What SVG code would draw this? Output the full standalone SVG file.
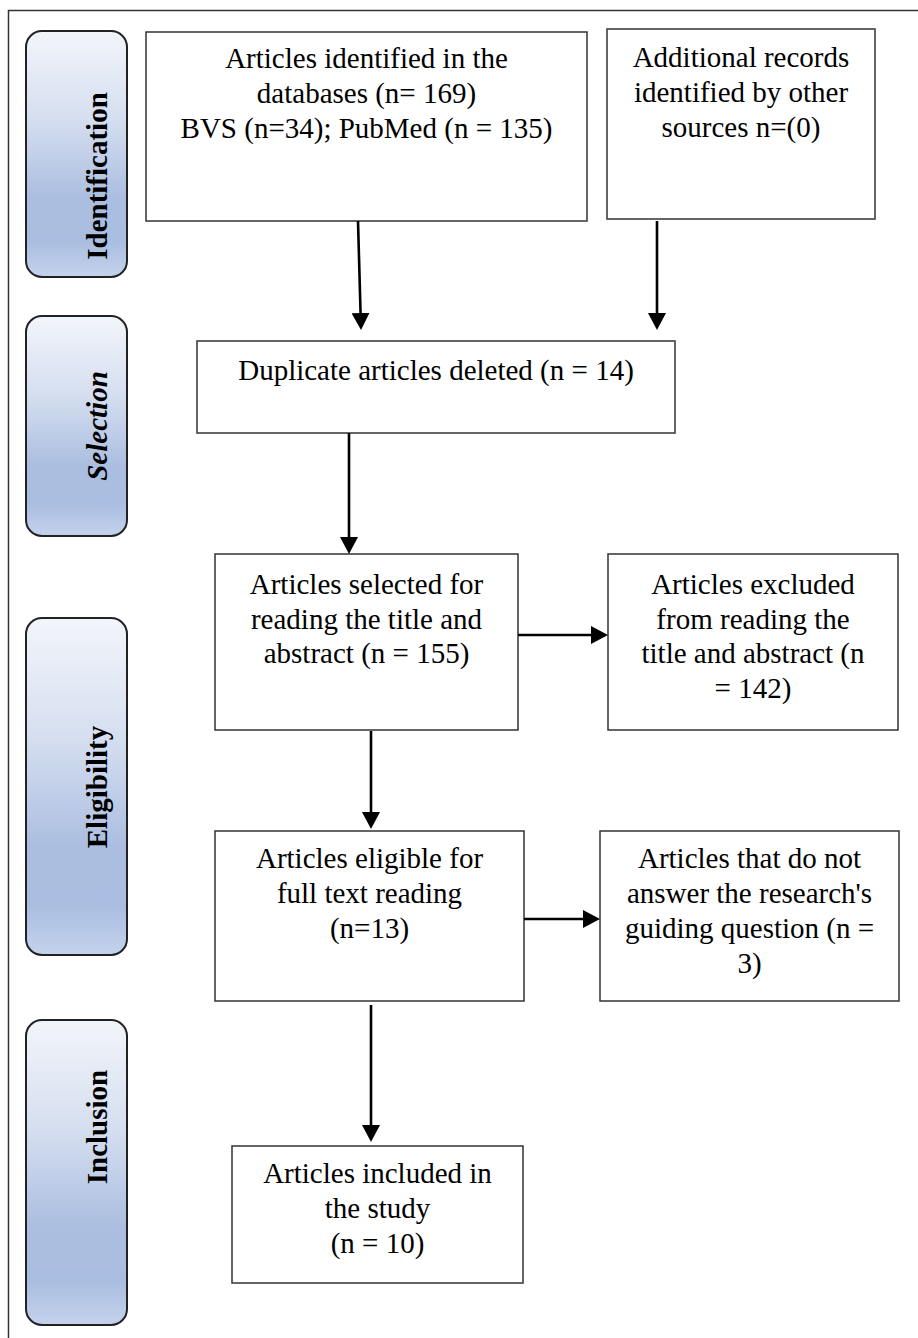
<svg xmlns="http://www.w3.org/2000/svg" width="918" height="1338" viewBox="0 0 918 1338">
<defs>
<linearGradient id="phase" x1="0" y1="0" x2="0" y2="1">
<stop offset="0" stop-color="#f2f5fa"/>
<stop offset="0.35" stop-color="#d6dff0"/>
<stop offset="0.68" stop-color="#abbee0"/>
<stop offset="0.85" stop-color="#a9bde0"/>
<stop offset="1" stop-color="#c4d2ec"/>
</linearGradient>
<marker id="ah" markerUnits="userSpaceOnUse" markerWidth="18" markerHeight="18" refX="5" refY="9" orient="auto" viewBox="0 0 18 18">
<path d="M0,0 L17,9 L0,18 z" fill="#000"/>
</marker>
<style>
.box{fill:#fff;stroke:#333;stroke-width:1.5}
.phase{fill:url(#phase);stroke:#222;stroke-width:2}
.t{font-family:"Liberation Serif","Times New Roman",serif;font-size:29px;fill:#000;text-anchor:middle}
.pt{font-family:"Liberation Serif","Times New Roman",serif;font-size:29px;font-weight:bold;fill:#000;text-anchor:middle}
.c{fill:none;stroke:#000;stroke-width:2.6}
</style>
</defs>
<rect width="918" height="1338" fill="#fff"/>
<path d="M8.5,1338 V10.5 H918" fill="none" stroke="#333" stroke-width="1.5"/>

<g id="phase-identification">
<rect class="phase" x="26" y="31" width="101" height="246" rx="16"/>
<text class="pt" transform="translate(107,176) rotate(-90)">Identification</text>
</g>
<g id="phase-selection">
<rect class="phase" x="26" y="316" width="101" height="220" rx="16"/>
<text class="pt" font-style="italic" transform="translate(107,426) rotate(-90)">Selection</text>
</g>
<g id="phase-eligibility">
<rect class="phase" x="26" y="618" width="101" height="337" rx="16"/>
<text class="pt" transform="translate(107,787) rotate(-90)">Eligibility</text>
</g>
<g id="phase-inclusion">
<rect class="phase" x="26" y="1020" width="101" height="305" rx="16"/>
<text class="pt" transform="translate(107,1127) rotate(-90)">Inclusion</text>
</g>

<g id="identified">
<rect class="box" x="146" y="32" width="441" height="189"/>
<text class="t" x="366.5" y="68">Articles identified in the</text>
<text class="t" x="366.5" y="103">databases (n= 169)</text>
<text class="t" x="366.5" y="138">BVS (n=34); PubMed (n = 135)</text>
</g>
<g id="additional">
<rect class="box" x="607" y="29" width="268" height="190"/>
<text class="t" x="741" y="67">Additional records</text>
<text class="t" x="741" y="102">identified by other</text>
<text class="t" x="741" y="137">sources n=(0)</text>
</g>
<g id="duplicates">
<rect class="box" x="197" y="341" width="478" height="92"/>
<text class="t" x="436" y="380">Duplicate articles deleted (n = 14)</text>
</g>
<g id="selected">
<rect class="box" x="215" y="554" width="303" height="176"/>
<text class="t" x="366.5" y="593.5">Articles selected for</text>
<text class="t" x="366.5" y="628.5">reading the title and</text>
<text class="t" x="366.5" y="663">abstract (n = 155)</text>
</g>
<g id="excluded">
<rect class="box" x="608" y="554" width="290" height="176"/>
<text class="t" x="753" y="593.5">Articles excluded</text>
<text class="t" x="753" y="628.5">from reading the</text>
<text class="t" x="753" y="663">title and abstract (n</text>
<text class="t" x="753" y="697.5">= 142)</text>
</g>
<g id="eligible">
<rect class="box" x="215" y="831" width="309" height="170"/>
<text class="t" x="369.5" y="868">Articles eligible for</text>
<text class="t" x="369.5" y="903">full text reading</text>
<text class="t" x="369.5" y="938">(n=13)</text>
</g>
<g id="not-answer">
<rect class="box" x="600" y="831" width="299" height="170"/>
<text class="t" x="749.5" y="868">Articles that do not</text>
<text class="t" x="749.5" y="903">answer the research's</text>
<text class="t" x="749.5" y="938">guiding question (n =</text>
<text class="t" x="749.5" y="973">3)</text>
</g>
<g id="included">
<rect class="box" x="232" y="1146" width="291" height="137"/>
<text class="t" x="377.5" y="1183">Articles included in</text>
<text class="t" x="377.5" y="1218">the study</text>
<text class="t" x="377.5" y="1253">(n = 10)</text>
</g>

<g id="connectors">
<path class="c" d="M358,221 L360.7,318" marker-end="url(#ah)"/>
<path class="c" d="M657,221 V318" marker-end="url(#ah)"/>
<path class="c" d="M349,433 V542" marker-end="url(#ah)"/>
<path class="c" d="M371,731 V817" marker-end="url(#ah)"/>
<path class="c" d="M518,635 H596" marker-end="url(#ah)"/>
<path class="c" d="M524,919 H588" marker-end="url(#ah)"/>
<path class="c" d="M371,1005 V1130" marker-end="url(#ah)"/>
</g>
</svg>
